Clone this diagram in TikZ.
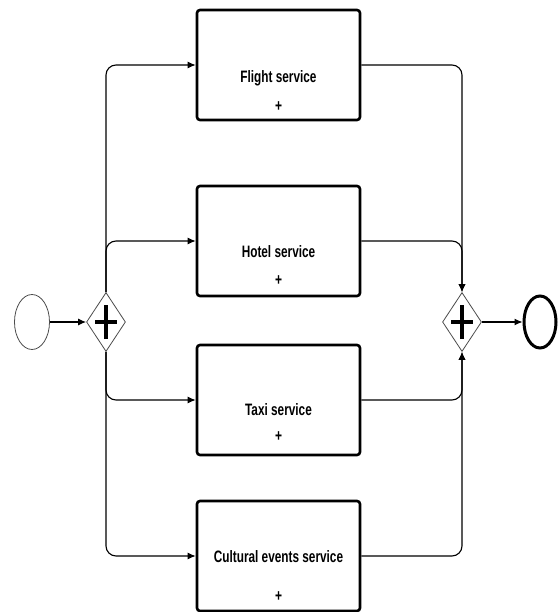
\documentclass[tikz,border=0pt]{standalone}
\usepackage{fontspec}
\setmainfont{Liberation Sans}
\usepackage{graphicx}
\usetikzlibrary{arrows.meta,shapes.geometric}
\newcommand{\tall}[1]{\scalebox{1}[1.4]{#1}}
\begin{document}
\begin{tikzpicture}[x=1pt,y=-1pt,
  task/.style={draw,line width=2.6pt,rounded corners=3pt,minimum width=163pt,minimum height=110pt,inner sep=0pt,fill=white},
  gate/.style={draw=black!70,line width=0.8pt,diamond,minimum width=39pt,minimum height=59pt,inner sep=0pt,fill=white},
  flow/.style={line width=1.1pt,-{Latex[length=8pt,width=7pt]},rounded corners=10pt},
  lbl/.style={font=\fontsize{11.8}{14}\selectfont\bfseries,inner sep=0pt},
  plusmark/.style={font=\fontsize{12}{14}\selectfont\bfseries,inner sep=0pt},
  cross/.style={line width=4.5pt}
]
\useasboundingbox (0,0) rectangle (558,612);
\fill[white] (0,0) rectangle (558,612);

% events
\node[ellipse,draw=black!70,line width=0.8pt,minimum width=35pt,minimum height=55pt,inner sep=0pt] (start) at (32,322) {};
\node[ellipse,draw,line width=3pt,minimum width=32pt,minimum height=52pt,inner sep=0pt] (end) at (540,322) {};

% gateways
\node[gate] (gL) at (106,322) {};
\node[gate] (gR) at (462,322) {};
\foreach \g in {gL,gR}{
  \draw[cross] ([xshift=-11pt]\g.center) -- ([xshift=11pt]\g.center);
  \draw[cross] ([yshift=-17pt]\g.center) -- ([yshift=17pt]\g.center);
}

% tasks
\node[task] (flight) at (278.5,65) {};
\node[task] (hotel) at (278.5,241) {};
\node[task] (taxi) at (278.5,400) {};
\node[task] (cultural) at (278.5,556) {};

\node[lbl] (tf) at (278.5,78) {\tall{Flight service}};
\node[plusmark] (pf) at (278.5,107) {\tall{+}};
\node[lbl] (th) at (278.5,252) {\tall{Hotel service}};
\node[plusmark] (ph) at (278.5,281) {\tall{+}};
\node[lbl] (tt) at (278.5,410) {\tall{Taxi service}};
\node[plusmark] (pt) at (278.5,437) {\tall{+}};
\node[lbl] (tc) at (278.5,557) {\tall{Cultural events service}};
\node[plusmark] (pc) at (278.5,597) {\tall{+}};

% flows
\draw[flow] (start) -- (gL);
\draw[flow] (gL.north) |- (flight.west);
\draw[flow] (gL.north) |- (hotel.west);
\draw[flow] (gL.south) |- (taxi.west);
\draw[flow] (gL.south) |- (cultural.west);
\draw[flow] (flight.east) -| (gR.north);
\draw[flow] (hotel.east) -| (gR.north);
\draw[flow] (taxi.east) -| (gR.south);
\draw[flow] (cultural.east) -| (gR.south);
\draw[flow] (gR) -- (end);
\end{tikzpicture}
\end{document}
